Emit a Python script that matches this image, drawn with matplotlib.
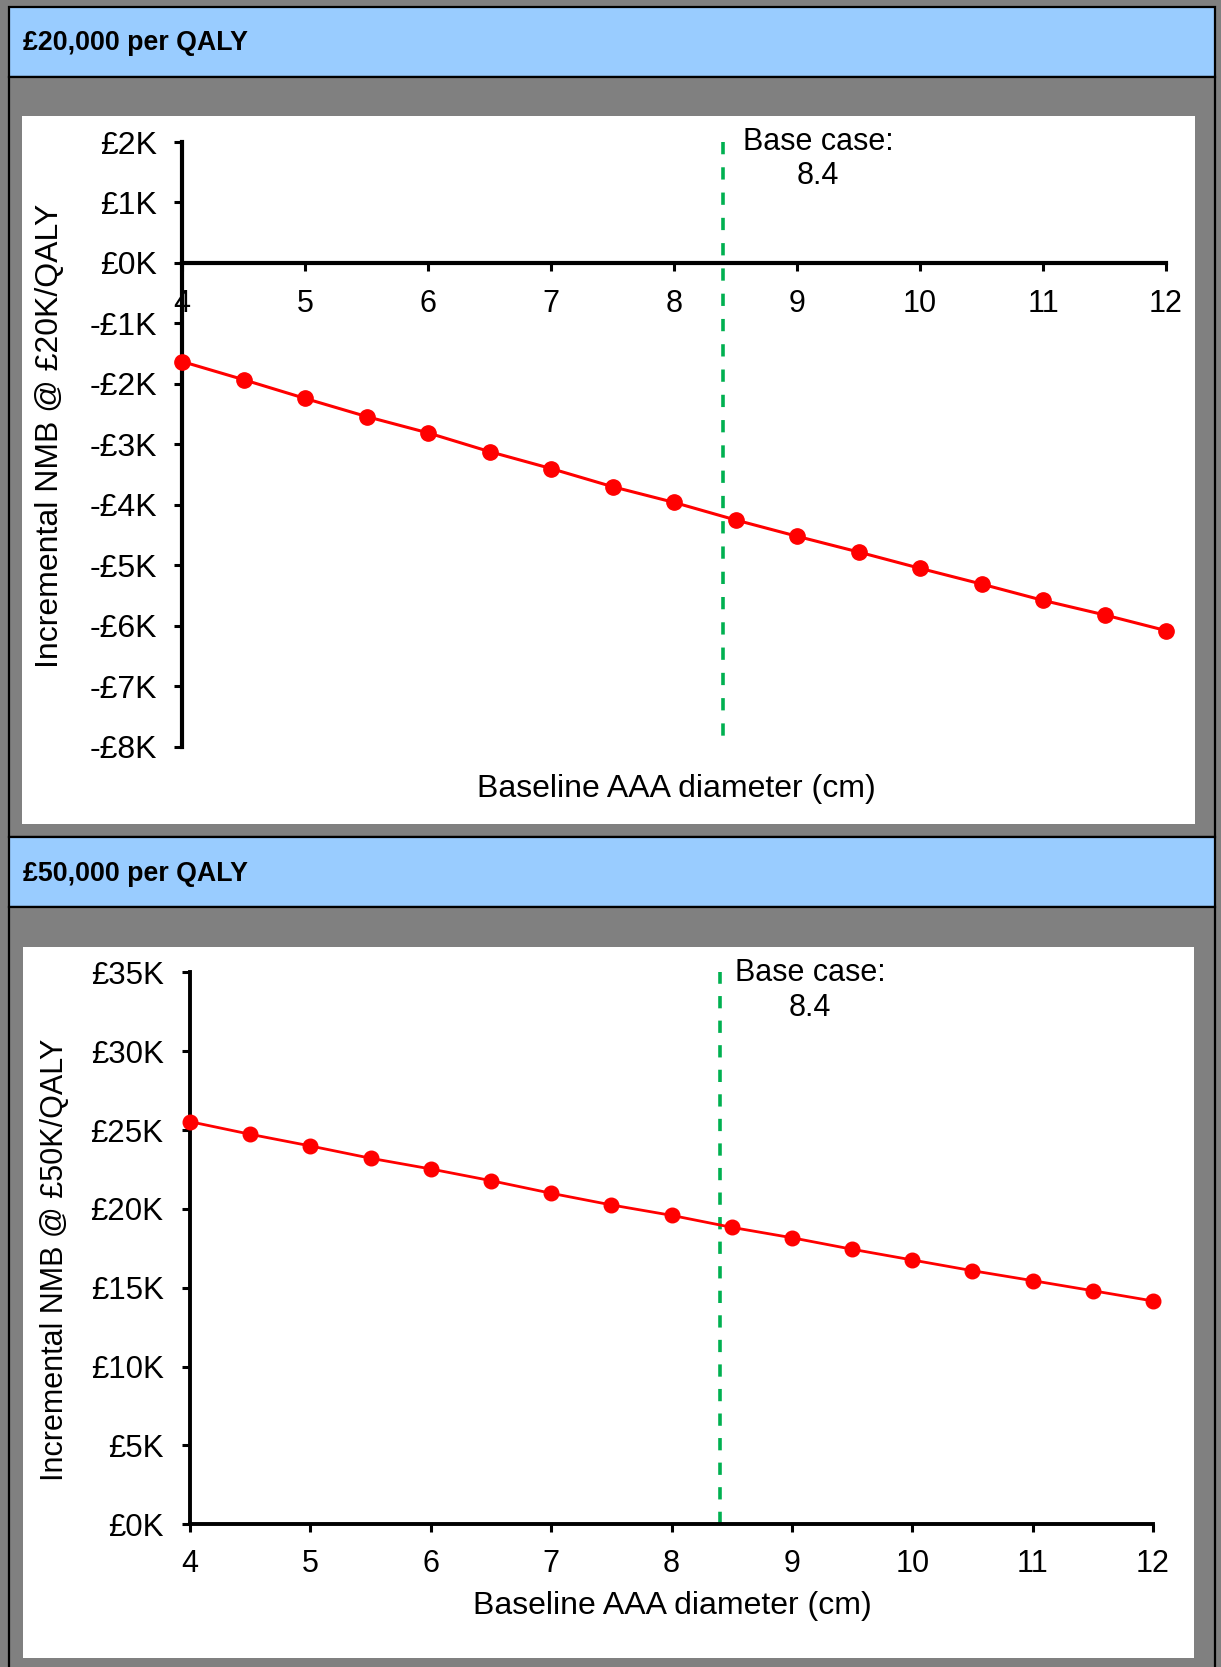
import matplotlib
matplotlib.use("Agg")
import matplotlib.pyplot as plt
from matplotlib.patches import Rectangle

plt.rcParams["font.family"] = ["Liberation Sans", "DejaVu Sans"]

# ------------------------------------------------------------------ #
#  Data (NMB in £ thousands)
# ------------------------------------------------------------------ #
DIAMETER = [4, 4.5, 5, 5.5, 6, 6.5, 7, 7.5, 8, 8.5, 9, 9.5, 10, 10.5, 11, 11.5, 12]
NMB_20K = [-1.63, -1.93, -2.24, -2.54, -2.81, -3.12, -3.40, -3.70, -3.96,
           -4.25, -4.52, -4.78, -5.05, -5.31, -5.58, -5.82, -6.08]
NMB_50K = [25.53, 24.73, 23.99, 23.21, 22.53, 21.79, 20.99, 20.25, 19.59,
           18.83, 18.17, 17.44, 16.76, 16.08, 15.45, 14.81, 14.16]
BASE_CASE = 8.4

X_TICKS = [4, 5, 6, 7, 8, 9, 10, 11, 12]
Y1_TICKS = [-8, -7, -6, -5, -4, -3, -2, -1, 0, 1, 2]
Y1_LABELS = ["-£8K", "-£7K", "-£6K", "-£5K", "-£4K", "-£3K", "-£2K", "-£1K",
             "£0K", "£1K", "£2K"]
Y2_TICKS = [0, 5, 10, 15, 20, 25, 30, 35]
Y2_LABELS = ["£0K", "£5K", "£10K", "£15K", "£20K", "£25K", "£30K", "£35K"]

HEADERS = ["£20,000 per QALY", "£50,000 per QALY"]
YLABELS = ["Incremental NMB @ £20K/QALY", "Incremental NMB @ £50K/QALY"]
XLABEL = "Baseline AAA diameter (cm)"

W, H = 1221, 1667
GRAY = "#808080"
HEADER_BLUE = "#99CCFF"
RED = "#FF0000"
GREEN = "#00B050"


def px_rect(x0, y0, x1, y1):
    """pixel box (top-left origin) -> figure fraction [l, b, w, h]"""
    return [x0 / W, 1 - y1 / H, (x1 - x0) / W, (y1 - y0) / H]


def add_box(fig, x0, y0, x1, y1, face, edge="none", lw=0, z=-2):
    l, b, w, h = px_rect(x0, y0, x1, y1)
    fig.add_artist(Rectangle((l, b), w, h, transform=fig.transFigure,
                             facecolor=face, edgecolor=edge, linewidth=lw,
                             zorder=z))


def style_axes(ax, spine_lw):
    ax.patch.set_visible(False)
    ax.spines["top"].set_visible(False)
    ax.spines["right"].set_visible(False)
    for s in ("left", "bottom"):
        ax.spines[s].set_linewidth(spine_lw)
    ax.tick_params(direction="out", length=6, width=2.2, color="black")


fig = plt.figure(figsize=(W / 100, H / 100), dpi=100, facecolor=GRAY)

# table cells
add_box(fig, 9, 7, 1215, 77, HEADER_BLUE, "black", 1.6)
add_box(fig, 9, 77, 1215, 837, GRAY, "black", 1.6)
add_box(fig, 9, 837, 1215, 907, HEADER_BLUE, "black", 1.6)
add_box(fig, 9, 907, 1215, 1672, GRAY, "black", 1.6)
# white chart images
add_box(fig, 22, 116, 1195, 824, "white", z=-1)
add_box(fig, 23, 947, 1194, 1658, "white", z=-1)

fig.text(23 / W, 1 - 43 / H, HEADERS[0], fontsize=19.3, fontweight="bold",
         ha="left", va="center")
fig.text(23 / W, 1 - 874 / H, HEADERS[1], fontsize=19.3, fontweight="bold",
         ha="left", va="center")

# ------------------------------------------------------------------ #
#  Panel 1 — £20K/QALY
# ------------------------------------------------------------------ #
ax1 = fig.add_axes(px_rect(182, 142, 1166, 746.7))
style_axes(ax1, 3.0)
ax1.spines["bottom"].set_position(("data", 0))
ax1.plot(DIAMETER, NMB_20K, color=RED, linewidth=2.2, marker="o",
         markersize=11, zorder=3, clip_on=False)
ax1.plot([BASE_CASE, BASE_CASE], [Y1_TICKS[-1], Y1_TICKS[0]], color=GREEN,
         linewidth=2.6, dashes=(3.4, 3.6), zorder=2)
ax1.set_xlim(X_TICKS[0], X_TICKS[-1])
ax1.set_ylim(Y1_TICKS[0], Y1_TICKS[-1])
ax1.set_xticks(X_TICKS)
ax1.set_xticklabels([str(t) for t in X_TICKS], fontsize=22)
ax1.set_yticks(Y1_TICKS)
ax1.set_yticklabels(Y1_LABELS, fontsize=23)
ax1.tick_params(axis="x", pad=13)
ax1.tick_params(axis="y", pad=12)
ax1.text(9.17, 2.25, "Base case:\n8.4", fontsize=22, ha="center", va="top",
         multialignment="center", linespacing=1.2, clip_on=False)
ax1.set_xlabel(XLABEL, fontsize=23, va="center")
ax1.xaxis.set_label_coords(0.502, -0.07)
ax1.set_ylabel(YLABELS[0], fontsize=23, va="center")
ax1.yaxis.set_label_coords(-0.134, 0.514)

# ------------------------------------------------------------------ #
#  Panel 2 — £50K/QALY
# ------------------------------------------------------------------ #
ax2 = fig.add_axes(px_rect(190, 972.3, 1153, 1524.3))
style_axes(ax2, 2.8)
ax2.plot(DIAMETER, NMB_50K, color=RED, linewidth=2, marker="o",
         markersize=10.5, zorder=3, clip_on=False)
ax2.plot([BASE_CASE, BASE_CASE], [Y2_TICKS[0], Y2_TICKS[-1]], color=GREEN,
         linewidth=2.6, dashes=(3.4, 3.4), zorder=2)
ax2.set_xlim(X_TICKS[0], X_TICKS[-1])
ax2.set_ylim(Y2_TICKS[0], Y2_TICKS[-1])
ax2.set_xticks(X_TICKS)
ax2.set_xticklabels([str(t) for t in X_TICKS], fontsize=22)
ax2.set_yticks(Y2_TICKS)
ax2.set_yticklabels(Y2_LABELS, fontsize=22.5)
ax2.tick_params(axis="x", pad=12)
ax2.tick_params(axis="y", pad=13)
ax2.text(9.15, 35.9, "Base case:\n8.4", fontsize=22, ha="center", va="top",
         multialignment="center", linespacing=1.2, clip_on=False)
ax2.set_xlabel(XLABEL, fontsize=23, va="center")
ax2.xaxis.set_label_coords(0.5005, -0.148)
ax2.set_ylabel(YLABELS[1], fontsize=22, va="center")
ax2.yaxis.set_label_coords(-0.14, 0.48)

fig.savefig("out.png", dpi=100, facecolor=fig.get_facecolor())
